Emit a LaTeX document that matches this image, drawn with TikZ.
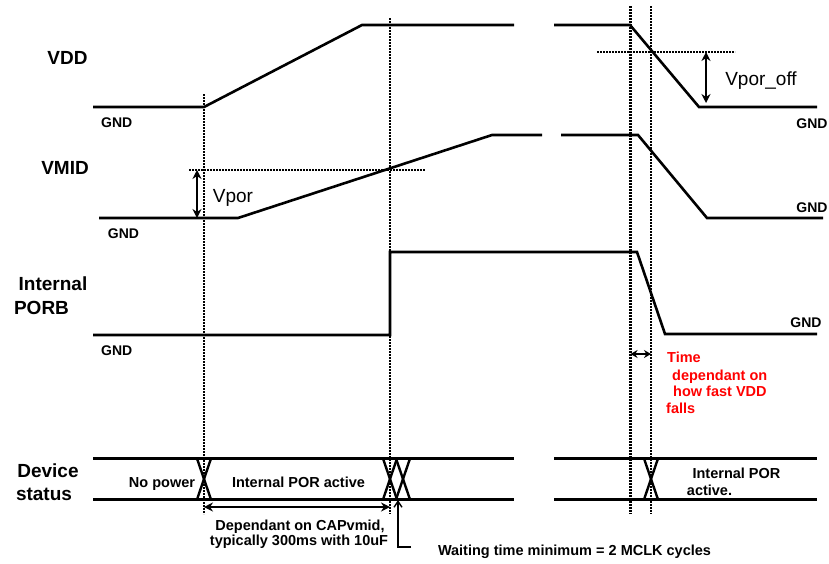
\documentclass[tikz,border=0pt]{standalone}
\usepackage{fontspec}
\setmainfont{Liberation Sans}
\usetikzlibrary{arrows.meta}
\begin{document}
\begin{tikzpicture}[x=1pt,y=-1pt,
 sig/.style={line width=2.6pt, line join=miter},
 guide/.style={line width=2.6pt, dash pattern=on 2pt off 1pt},
 lbl/.style={font=\fontsize{19}{22}\selectfont\bfseries, anchor=base, inner sep=0pt},
 gndlbl/.style={font=\fontsize{14}{16}\selectfont\bfseries, anchor=base, inner sep=0pt},
 txt/.style={font=\fontsize{14.5}{17}\selectfont\bfseries, anchor=base, inner sep=0pt},
 redtxt/.style={font=\fontsize{14.5}{17}\selectfont\bfseries, anchor=base west, inner sep=0pt, text=red},
 vlbl/.style={font=\fontsize{19}{22}\selectfont, anchor=base, inner sep=0pt},
 dimarrow/.style={line width=2.2pt, {Stealth[length=9pt,width=9pt]}-{Stealth[length=9pt,width=9pt]}},
 xing/.style={line width=2.4pt},
]
\useasboundingbox[fill=white] (0,0) rectangle (829,563);

% guide lines
\draw[guide] (204,94) -- (204,514);
\draw[guide] (390,18) -- (390,514);
\draw[guide] (630.5,6) -- (630.5,514);
\draw[guide] (651,6) -- (651,514);
\draw[guide] (189,170) -- (425,170);
\draw[guide] (597,52) -- (735,52);

% VDD
\draw[sig] (93,107) -- (204,107) -- (362,25) -- (514,25);
\draw[sig] (554,25) -- (630,25) -- (699,107) -- (817,107);
% VMID
\draw[sig] (99,218) -- (238,218) -- (492,135) -- (542,135);
\draw[sig] (561,135) -- (638,135) -- (707,218) -- (823,218);
% PORB
\draw[sig] (93,335) -- (390,335) -- (390,252) -- (637,252) -- (665,334) -- (817,334);
% Device status
\draw[sig] (93,458.5) -- (514,458.5);
\draw[sig] (93,499.5) -- (514,499.5);
\draw[sig] (554,458.5) -- (817,458.5);
\draw[sig] (554,499.5) -- (817,499.5);
\foreach \a/\b in {197/211, 383/397, 396/410, 644/658}{
  \draw[xing] (\a,458.5) -- (\b,499.5);
  \draw[xing] (\a,499.5) -- (\b,458.5);
}

% dimension arrows
\coordinate (vpa) at (197,170); \coordinate (vpb) at (197,218);
\draw[dimarrow] (vpa) -- (vpb);
\coordinate (voa) at (706,52); \coordinate (vob) at (706,103);
\draw[dimarrow] (voa) -- (vob);
\coordinate (ta) at (630.5,354); \coordinate (tb) at (651,354);
\draw[line width=2pt, {Stealth[length=7pt,width=8pt]}-{Stealth[length=7pt,width=8pt]}] (ta) -- (tb);
\coordinate (da) at (204,507); \coordinate (db) at (390,507);
\draw[dimarrow] (da) -- (db);
\coordinate (wa) at (398,500); \coordinate (wb) at (398,547); \coordinate (wc) at (411,547);
\draw[line width=1.4pt, -{Straight Barb[length=6pt,width=8pt]}] (wc) -- (wb) -- (wa);

% labels
\node[lbl] (lvdd) at (67.5,64) {VDD};
\node[lbl] (lvmid) at (65,174) {VMID};
\node[lbl] (lint) at (53,290) {Internal};
\node[lbl] (lporb) at (41.5,314) {PORB};
\node[lbl] (ldev) at (48,477) {Device};
\node[lbl] (lstat) at (44,500) {status};

\node[gndlbl] (g1) at (116.7,127) {GND};
\node[gndlbl] (g2) at (123.5,238) {GND};
\node[gndlbl] (g3) at (116.7,355) {GND};
\node[gndlbl] (g4) at (812,128) {GND};
\node[gndlbl] (g5) at (812,212) {GND};
\node[gndlbl] (g6) at (806,327) {GND};

\node[vlbl] (lvpor) at (233,202) {Vpor};
\node[vlbl] (lvpoff) at (761,85.5) {Vpor\_off};

\node[txt] (nopow) at (162,487) {No power};
\node[txt] (porl) at (298.5,487) {Internal POR active};
\node[txt] (porr1) at (736.5,478) {Internal POR};
\node[txt] (porr2) at (709.5,495) {active.};
\node[txt] (dep1) at (300,530) {Dependant on CAPvmid,};
\node[txt] (dep2) at (299,545) {typically 300ms with 10uF};
\node[txt] (wait) at (574.5,555) {Waiting time minimum = 2 MCLK cycles};

\node[redtxt] (r1) at (667,362) {Time};
\node[redtxt] (r2) at (672,380) {dependant on};
\node[redtxt] (r3) at (673,396) {how fast VDD};
\node[redtxt] (r4) at (666,413) {falls};
\end{tikzpicture}
\end{document}
